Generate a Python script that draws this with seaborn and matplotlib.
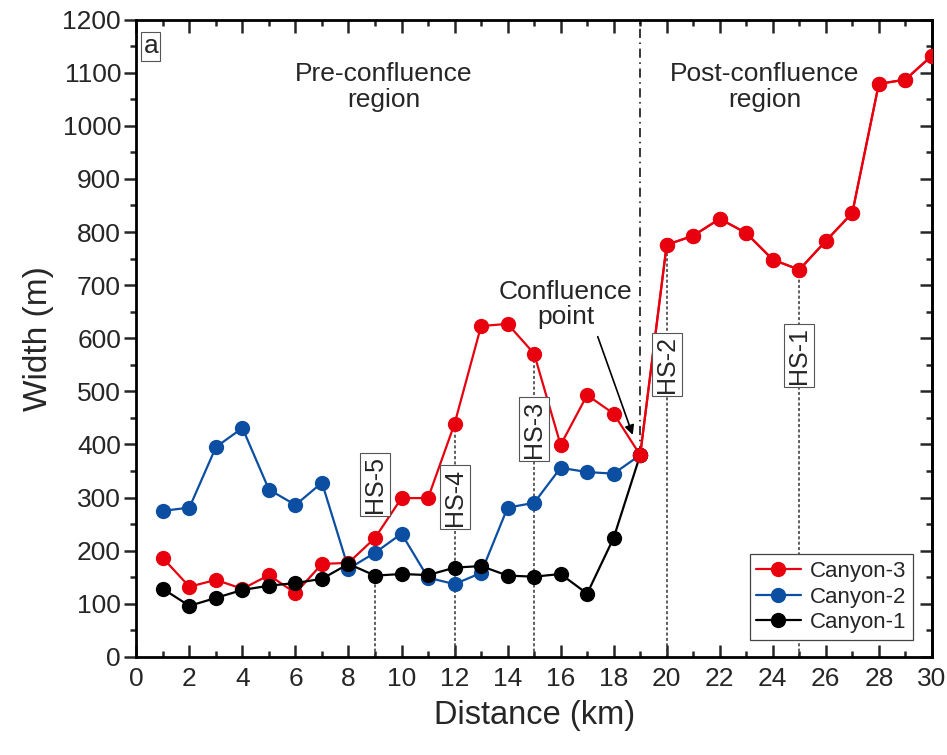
import numpy as np
import pandas as pd
import matplotlib
matplotlib.use("Agg")
import matplotlib.pyplot as plt
import seaborn as sns
from matplotlib.ticker import MultipleLocator

# Datos
distance = list(range(1, 31))
canyon3 = [186, 132, 145, 128, 154, 120, 175, 177, 224, 299, 299, 439, 623, 627, 571,
           399, 493, 458, 380, 776, 793, 825, 798, 748, 729, 783, 836, 1079, 1087, 1132]
dist_pre = list(range(1, 20))
canyon2 = [275, 281, 395, 431, 315, 286, 328, 166, 196, 232, 149, 137, 158, 281, 290,
           356, 348, 345, 380]
canyon1 = [128, 96, 111, 126, 134, 139, 147, 175, 153, 156, 154, 168, 171, 153, 151,
           156, 119, 224, 380]

# Secciones HS
hs_names = ['HS-5', 'HS-4', 'HS-3', 'HS-2', 'HS-1']
hs_x = [9, 12, 15, 20, 25]
hs_top = [153, 439, 571, 776, 729]
hs_label_y = [324, 301, 429, 550, 567]

confluence_x = 19

RED = '#e8000f'
BLUE = '#0b4ea2'
BLACK = '#000000'

sns.set_style("white")
plt.rcParams['font.family'] = ['Liberation Sans', 'DejaVu Sans']

fig = plt.figure(figsize=(9.47, 7.55), dpi=100)
ax = fig.add_axes([0.144, 0.130, 0.840, 0.844])

line_kw = dict(marker='o', markersize=11, markeredgewidth=0, linewidth=1.6, ax=ax)

# HS lines (behind)
for name, x, top, ly in zip(hs_names, hs_x, hs_top, hs_label_y):
    ax.vlines(x, 0, top, colors='#333333', linestyles=(0, (2, 1.5)), linewidth=1.1, zorder=1)
    ax.text(x, ly, name, rotation=90, ha='center', va='center', fontsize=18, zorder=6,
            bbox=dict(boxstyle='square,pad=0.12', facecolor='white', edgecolor='#555555', linewidth=0.8))

# confluence dash-dot line
ax.vlines(confluence_x, canyon3[confluence_x - 1], 1200, colors='black',
          linestyles=(0, (6, 3, 1, 3)), linewidth=1.1, zorder=1)

df2 = pd.DataFrame({'x': dist_pre, 'y': canyon2})
df3 = pd.DataFrame({'x': distance, 'y': canyon3})
df1 = pd.DataFrame({'x': dist_pre, 'y': canyon1})

sns.lineplot(data=df2, x='x', y='y', color=BLUE, label='Canyon-2', zorder=3, **line_kw)
sns.lineplot(data=df3, x='x', y='y', color=RED, label='Canyon-3', zorder=4, **line_kw)
sns.lineplot(data=df1, x='x', y='y', color=BLACK, label='Canyon-1', zorder=5, **line_kw)
# post-confluence part of Canyon-3 drawn on top
post = df3[df3['x'] >= confluence_x]
sns.lineplot(data=post, x='x', y='y', color=RED, legend=False, zorder=5.5, **line_kw)

ax.set_xlim(0, 30)
ax.set_ylim(0, 1200)
ax.xaxis.set_major_locator(MultipleLocator(2))
ax.xaxis.set_minor_locator(MultipleLocator(1))
ax.yaxis.set_major_locator(MultipleLocator(100))
ax.yaxis.set_minor_locator(MultipleLocator(50))

for s in ax.spines.values():
    s.set_linewidth(2.0)
    s.set_color('black')

ax.tick_params(axis='x', which='both', direction='in', top=True, bottom=True,
               width=1.8, labelsize=19, pad=7)
ax.tick_params(axis='x', which='major', length=9)
ax.tick_params(axis='x', which='minor', length=4.5)
ax.tick_params(axis='y', which='both', direction='out', left=True, right=False,
               width=1.8, labelsize=19, pad=2)
ax.tick_params(axis='y', which='major', length=9)
ax.tick_params(axis='y', which='minor', length=4.5)

# right side inward ticks
axr = ax.secondary_yaxis('right')
axr.yaxis.set_major_locator(MultipleLocator(100))
axr.yaxis.set_minor_locator(MultipleLocator(50))
axr.tick_params(axis='y', which='both', direction='in', width=1.8, labelright=False)
axr.tick_params(axis='y', which='major', length=9)
axr.tick_params(axis='y', which='minor', length=4.5)
axr.spines['right'].set_linewidth(2.0)

ax.set_xlabel('Distance (km)', fontsize=23.5, labelpad=7)
ax.set_ylabel('Width (m)', fontsize=24, labelpad=6)

ax.text(9.33, 1073, 'Pre-confluence\nregion', ha='center', va='center', fontsize=19,
        linespacing=1.15)
ax.text(23.7, 1073, 'Post-confluence\nregion', ha='center', va='center', fontsize=19,
        linespacing=1.15)
ax.text(16.2, 663, 'Confluence\npoint', ha='center', va='center', fontsize=19, linespacing=1.05)
ax.annotate('', xy=(18.72, 418), xytext=(17.4, 603),
            arrowprops=dict(arrowstyle='-|>', color='black', lw=1.2,
                            shrinkA=0, shrinkB=0, mutation_scale=14))
ax.text(0.009, 0.958, 'a', transform=ax.transAxes, ha='left', va='center', fontsize=19,
        bbox=dict(boxstyle='square,pad=0.08', facecolor='white', edgecolor='#555555', linewidth=0.8))

handles, labels = ax.get_legend_handles_labels()
order = [labels.index(n) for n in ['Canyon-3', 'Canyon-2', 'Canyon-1']]
leg = ax.legend([handles[i] for i in order], [labels[i] for i in order],
                loc='lower right', bbox_to_anchor=(0.976, 0.027), borderaxespad=0,
                fontsize=16, frameon=True, fancybox=False, edgecolor='#444444', framealpha=1,
                handlelength=2.0, handletextpad=0.4, borderpad=0.3, labelspacing=0.2)
leg.get_frame().set_linewidth(0.9)

fig.savefig('out.png', dpi=100)
